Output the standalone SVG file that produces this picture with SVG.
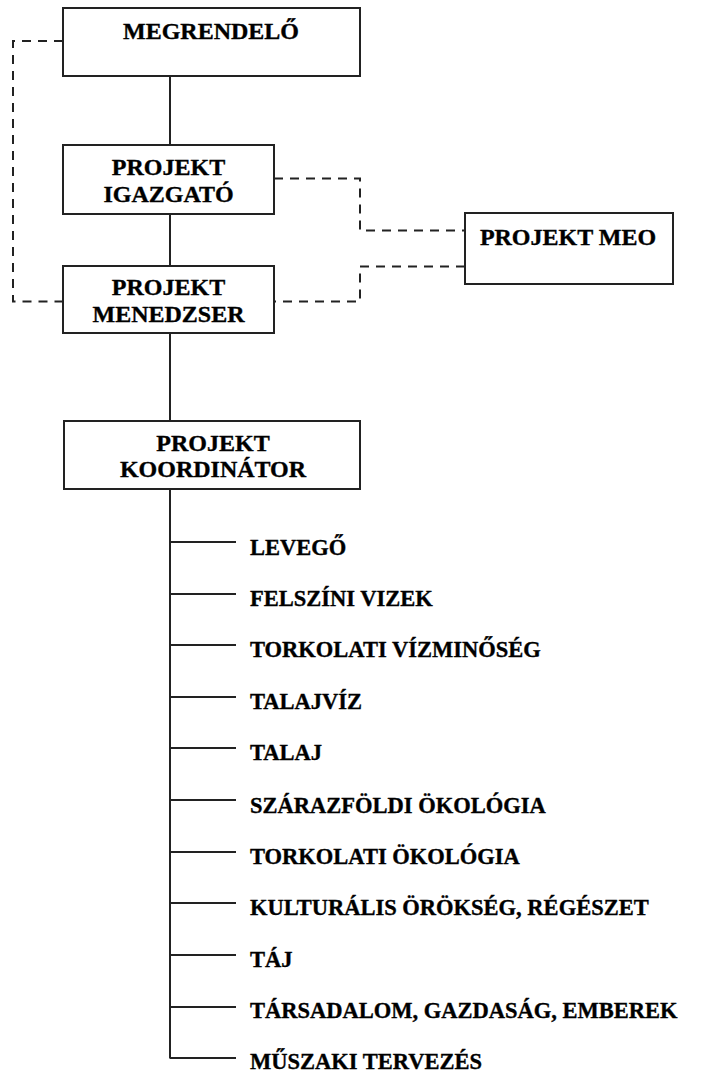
<svg xmlns="http://www.w3.org/2000/svg" width="701" height="1072" viewBox="0 0 701 1072">
<style>
.box{fill:#fff;stroke:#222;stroke-width:2}
.t{font-family:"Liberation Serif","Times New Roman",serif;font-weight:bold;font-size:24px;fill:#000;stroke:#000;stroke-width:0.35;text-anchor:middle}
.l{font-family:"Liberation Serif","Times New Roman",serif;font-weight:bold;font-size:22.5px;fill:#000;stroke:#000;stroke-width:0.35}
.solid{fill:none;stroke:#222;stroke-width:2}
.dash{fill:none;stroke:#222;stroke-width:2;stroke-dasharray:9,7}
</style>
<rect width="701" height="1072" fill="#fff"/>
<g id="connectors">
<path class="solid" d="M170 76V145M170 214V266M170 333V421M170 489V1058.5"/>
<path class="solid" d="M170 542H236M170 594H236M170 645H236M170 697H236M170 748H236M170 800H236M170 852H236M170 903H236M170 955H236M170 1007H236M170 1058H236"/>
<path class="dash" d="M63 41H13V301.5H63"/>
<path class="dash" d="M274 178.5H360V230.5H465"/>
<path class="dash" d="M465 266.5H360V301.5H274"/>
</g>
<g id="megrendelo">
<rect class="box" x="63" y="8" width="297" height="68"/>
<text class="t" x="211" y="39">MEGRENDELŐ</text>
</g>
<g id="igazgato">
<rect class="box" x="63" y="145" width="211" height="69"/>
<text class="t" x="168.5" y="175">PROJEKT</text>
<text class="t" x="168.5" y="201.5">IGAZGATÓ</text>
</g>
<g id="menedzser">
<rect class="box" x="63" y="266" width="211" height="67"/>
<text class="t" x="168.5" y="295">PROJEKT</text>
<text class="t" x="168.5" y="321.5">MENEDZSER</text>
</g>
<g id="meo">
<rect class="box" x="465" y="213" width="208" height="71"/>
<text class="t" x="568" y="245">PROJEKT MEO</text>
</g>
<g id="koordinator">
<rect class="box" x="64" y="421" width="296" height="68"/>
<text class="t" x="213" y="450.5">PROJEKT</text>
<text class="t" x="213" y="476.5">KOORDINÁTOR</text>
</g>
<g id="items">
<text class="l" x="250" y="555">LEVEGŐ</text>
<text class="l" x="250" y="606">FELSZÍNI VIZEK</text>
<text class="l" x="250" y="657">TORKOLATI VÍZMINŐSÉG</text>
<text class="l" x="250" y="709">TALAJVÍZ</text>
<text class="l" x="250" y="760">TALAJ</text>
<text class="l" x="250" y="813">SZÁRAZFÖLDI ÖKOLÓGIA</text>
<text class="l" x="250" y="864">TORKOLATI ÖKOLÓGIA</text>
<text class="l" x="250" y="915">KULTURÁLIS ÖRÖKSÉG, RÉGÉSZET</text>
<text class="l" x="250" y="967">TÁJ</text>
<text class="l" x="250" y="1018">TÁRSADALOM, GAZDASÁG, EMBEREK</text>
<text class="l" x="250" y="1069">MŰSZAKI TERVEZÉS</text>
</g>
</svg>
